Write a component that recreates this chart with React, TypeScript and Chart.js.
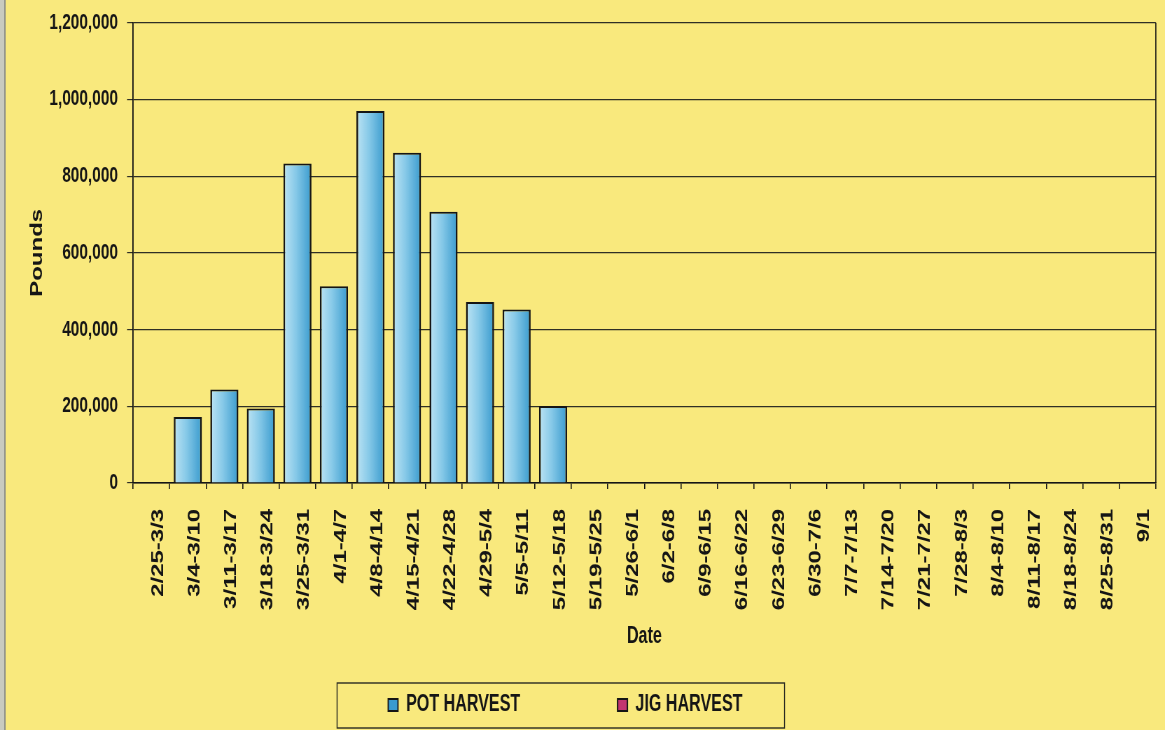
import React, { useEffect, useRef } from "react";
import { Chart, registerables } from "chart.js";

Chart.register(...registerables);

// ---- data ----
const categories: string[] = [
  "2/25-3/3", "3/4-3/10", "3/11-3/17", "3/18-3/24", "3/25-3/31", "4/1-4/7",
  "4/8-4/14", "4/15-4/21", "4/22-4/28", "4/29-5/4", "5/5-5/11", "5/12-5/18",
  "5/19-5/25", "5/26-6/1", "6/2-6/8", "6/9-6/15", "6/16-6/22", "6/23-6/29",
  "6/30-7/6", "7/7-7/13", "7/14-7/20", "7/21-7/27", "7/28-8/3", "8/4-8/10",
  "8/11-8/17", "8/18-8/24", "8/25-8/31", "9/1",
];

const potHarvest: number[] = [
  0, 172000, 244000, 194000, 833000, 513000, 970000, 861000, 707000, 472000,
  452000, 201000, 0, 0, 0, 0, 0, 0, 0, 0, 0, 0, 0, 0, 0, 0, 0, 0,
];

const jigHarvest: number[] = [
  0, 0, 0, 0, 0, 0, 0, 0, 0, 0, 0, 0, 0, 0, 0, 0, 0, 0, 0, 0, 0, 0, 0, 0, 0, 0, 0, 0,
];

const yMin = 0;
const yMax = 1200000;
const yStep = 200000;

// ---- layout (internal canvas is wider, then squeezed to 1165px like the scan) ----
const DISPLAY_W = 1165;
const DISPLAY_H = 730;
const SX = 0.7;
const W = Math.round(DISPLAY_W / SX);
const H = DISPLAY_H;

const FONT = "'Liberation Sans', Arial, sans-serif";
const INK = "#151515";
const BG = "#F9E97D";

export default function App() {
  const canvasRef = useRef<HTMLCanvasElement | null>(null);

  useEffect(() => {
    document.body.style.margin = "0";
    document.body.style.background = BG;
    const canvas = canvasRef.current;
    if (!canvas) return;

    const background = {
      id: "bgPaper",
      beforeDraw(chart: any) {
        const c = chart.ctx;
        c.save();
        c.fillStyle = BG;
        c.fillRect(0, 0, chart.width, chart.height);
        c.fillStyle = "#c9cabf";
        c.fillRect(0, 0, 6, chart.height);
        c.fillStyle = "#8e8f88";
        c.fillRect(6, 0, 2, chart.height);
        c.restore();
      },
      afterDraw(chart: any) {
        const c = chart.ctx;
        const a = chart.chartArea;
        c.save();
        c.strokeStyle = INK;
        c.lineWidth = 1.6;
        c.beginPath();
        c.moveTo(a.right, a.top);
        c.lineTo(a.right, a.bottom);
        c.stroke();
        // legend frame
        const lg = chart.legend;
        if (lg && lg.legendHitBoxes && lg.legendHitBoxes.length) {
          const hb = lg.legendHitBoxes;
          const first = hb[0];
          const last = hb[hb.length - 1];
          const cy = first.top + first.height / 2;
          const left = first.left - 73;
          const right = last.left + last.width + 60;
          c.lineWidth = 1.4;
          c.strokeStyle = "#2a2a22";
          c.strokeRect(left, cy - 22, right - left, 45);
        }
        c.restore();
      },
    };

    const potFill = (ctx: any) => {
      const chart = ctx.chart;
      if (ctx.type !== "data" || !chart.chartArea) return "#7cc6e8";
      const xs = chart.scales.x;
      const cx = xs.getPixelForValue(ctx.dataIndex);
      const w = (xs.width / categories.length) * 0.77;
      const g = chart.ctx.createLinearGradient(cx - w / 2, 0, cx + w / 2, 0);
      g.addColorStop(0, "#bde4f4");
      g.addColorStop(0.45, "#86c9e8");
      g.addColorStop(1, "#3a9bce");
      return g;
    };

    const chart = new Chart(canvas, {
      type: "bar",
      data: {
        labels: categories,
        datasets: [
          {
            label: "POT HARVEST",
            data: potHarvest,
            backgroundColor: potFill,
            borderColor: INK,
            borderWidth: { top: 2, left: 2.6, right: 2.6, bottom: 0 },
            grouped: false,
            categoryPercentage: 1,
            barPercentage: 0.77,
          },
          {
            label: "JIG HARVEST",
            data: jigHarvest,
            backgroundColor: "#c2336f",
            borderColor: INK,
            borderWidth: 2,
            grouped: false,
            categoryPercentage: 1,
            barPercentage: 0.77,
          },
        ],
      },
      options: {
        responsive: false,
        devicePixelRatio: 1,
        animation: false,
        layout: { padding: { left: -36, right: 13, top: 22.7, bottom: 3.5 } },
        plugins: {
          tooltip: { enabled: false },
          legend: {
            display: true,
            position: "bottom",
            title: {
              display: true,
              text: "",
              font: { family: FONT, size: 10 },
              padding: { top: -107.5, bottom: 0 },
            },
            labels: {
              color: INK,
              font: { family: FONT, size: 23, weight: "bold" },
              boxWidth: 14,
              boxHeight: 12,
              padding: 139,
            },
          },
        },
        scales: {
          x: {
            afterFit(scale: any) {
              scale.height = 167;
            },
            grid: {
              offset: true,
              drawOnChartArea: false,
              drawTicks: true,
              tickLength: 6,
              color: INK,
              lineWidth: 1.6,
            },
            border: { display: true, color: INK, width: 1.4 },
            ticks: {
              autoSkip: false,
              maxRotation: 90,
              minRotation: 90,
              padding: 19.8,
              labelOffset: 10,
              color: INK,
              font: { family: FONT, size: 24, weight: "bold", lineHeight: 0.8 },
            },
            title: {
              display: true,
              text: "Date",
              color: INK,
              font: { family: FONT, size: 23, weight: "bold" },
              padding: { top: 0, bottom: 0 },
            },
          },
          y: {
            min: yMin,
            max: yMax,
            afterFit(scale: any) {
              scale.width = 226;
            },
            grid: {
              color: "#2f2f25",
              lineWidth: 1.2,
              drawTicks: true,
              tickLength: 8.6,
            },
            border: { display: true, color: INK, width: 1.8 },
            ticks: {
              stepSize: yStep,
              padding: 13,
              color: INK,
              font: { family: FONT, size: 22, weight: "bold", lineHeight: 0.88 },
              callback: (v: any) => Number(v).toLocaleString("en-US"),
            },
            title: {
              display: true,
              text: "Pounds",
              color: INK,
              font: { family: FONT, size: 24, weight: "bold" },
              padding: { top: 74.6, bottom: 0 },
            },
          },
        },
      },
      plugins: [background],
    } as any);

    return () => {
      chart.destroy();
    };
  }, []);

  return (
    <div
      style={{
        width: DISPLAY_W,
        height: DISPLAY_H,
        overflow: "hidden",
        position: "relative",
        background: BG,
      }}
    >
      <canvas
        ref={canvasRef}
        width={W}
        height={H}
        style={{ width: DISPLAY_W + "px", height: DISPLAY_H + "px", display: "block" }}
      />
    </div>
  );
}
